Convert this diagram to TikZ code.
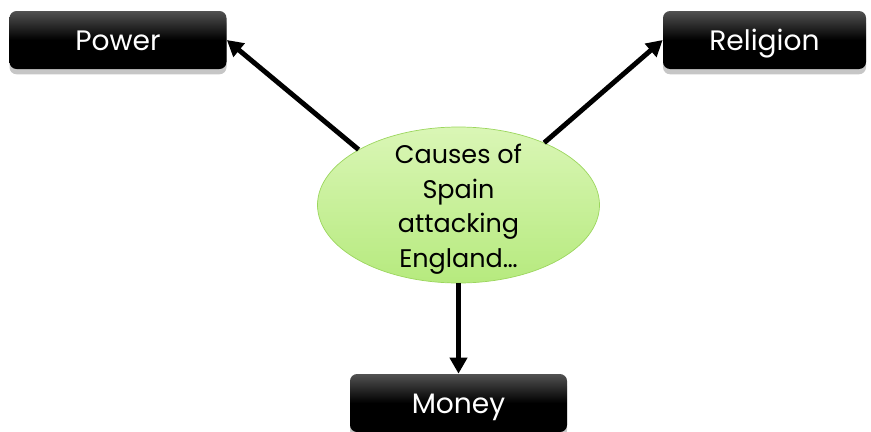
\documentclass[tikz,border=0pt]{standalone}
\usepackage{fontspec}
\setmainfont{Poppins}
\usetikzlibrary{positioning}
\usetikzlibrary{shapes.geometric, shadows, arrows.meta}

\definecolor{hubtop}{HTML}{DAF6B6}
\definecolor{hubbot}{HTML}{B6EA7E}
\definecolor{hubline}{HTML}{9CD65E}

\begin{document}
\begin{tikzpicture}[
  causebox/.style={rectangle, rounded corners=4pt, draw=none,
    top color=black!68, bottom color=black, middle color=black,
    minimum height=1.16cm, text height=14.4pt, text depth=3pt,
    text=white, font=\fontsize{16}{19}\selectfont,
    drop shadow={opacity=0.45, shadow xshift=0pt, shadow yshift=-3pt}},
  hub/.style={ellipse, draw=hubline, thin, top color=hubtop, bottom color=hubbot,
    minimum width=5.64cm, minimum height=3.12cm, inner sep=0pt, align=center,
    font=\fontsize{14.5}{19.6}\selectfont},
  arrowline/.style={line width=2.8pt, -{Triangle[length=0.32cm, width=0.34cm]}}
]
\useasboundingbox (0,0) rectangle (17.42,8.62);

% the three causes
\node[causebox, minimum width=4.34cm] (power) at (2.36,7.82) {Power};
\node[causebox, minimum width=4.06cm] (religion) at (15.29,7.82) {Religion};
\node[causebox, minimum width=4.34cm] (money) at (9.17,0.56) {Money};

\node[hub] (causes) at (9.17,4.52) {\smash{\raisebox{-6pt}{\parbox[c]{3cm}{\centering Causes of\\Spain\\attacking\\England\ldots}}}};

\draw[arrowline] (causes.north west) -- (power.east);
\draw[arrowline] (causes.36) -- (religion.west);
\draw[arrowline] (causes.south) -- (money.north);

\end{tikzpicture}
\end{document}
